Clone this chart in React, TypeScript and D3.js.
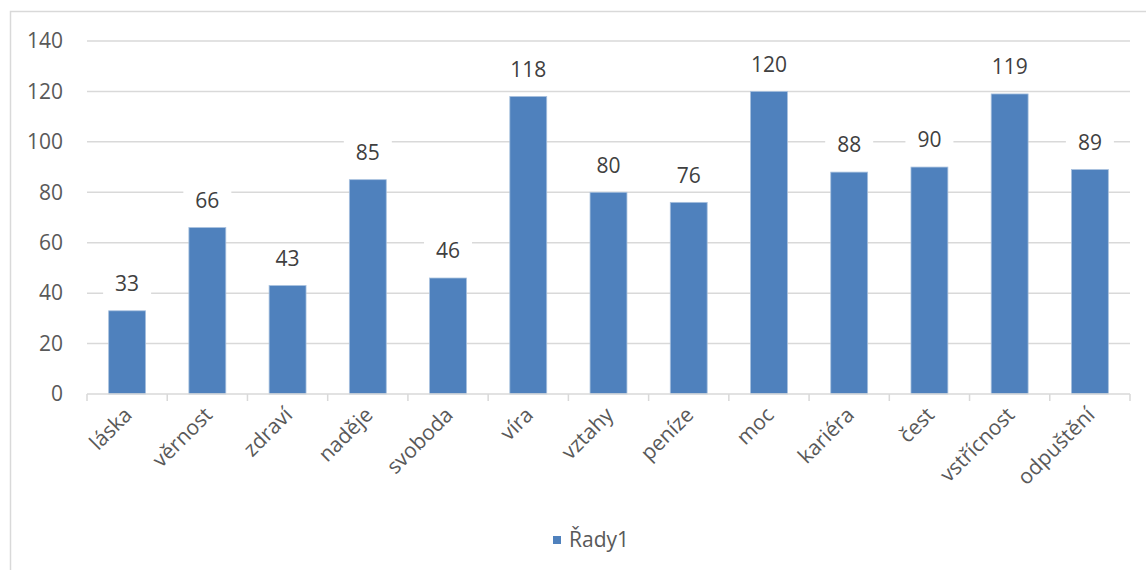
import { useEffect, useRef } from 'react'
import * as d3 from 'd3'

const categories = ['láska', 'věrnost', 'zdraví', 'naděje', 'svoboda', 'víra', 'vztahy', 'peníze', 'moc', 'kariéra', 'čest', 'vstřícnost', 'odpuštění']
const values = [33, 66, 43, 85, 46, 118, 80, 76, 120, 88, 90, 119, 89]
const yTicks = [0, 20, 40, 60, 80, 100, 120, 140]
const seriesName = 'Řady1'

const W = 1146
const H = 570
const FONT = '"Open Sans", "Liberation Sans", sans-serif'

export default function App() {
  const svgRef = useRef<SVGSVGElement>(null)

  useEffect(() => {
    if (!svgRef.current) return
    const svg = d3.select(svgRef.current)
    svg.selectAll('*').remove()

    const left = 87
    const right = 1130
    const top = 41
    const bottom = 394

    const x = d3.scaleBand<string>().domain(categories).range([left, right]).paddingInner(0.54).paddingOuter(0.27)
    const y = d3.scaleLinear().domain([0, 140]).range([bottom, top])
    const step = x.step()

    // chart frame
    svg.append('rect')
      .attr('x', 10.5).attr('y', 11.5)
      .attr('width', W + 10).attr('height', H + 10)
      .attr('fill', 'white').attr('stroke', '#d9d9d9').attr('stroke-width', 1.5)

    // gridlines
    svg.append('g').selectAll('line')
      .data(yTicks.filter(d => d > 0))
      .enter().append('line')
      .attr('x1', left).attr('x2', right)
      .attr('y1', d => y(d)).attr('y2', d => y(d))
      .attr('stroke', '#d9d9d9').attr('stroke-width', 1.5)

    // y labels
    svg.append('g').selectAll('text')
      .data(yTicks)
      .enter().append('text')
      .attr('x', 63).attr('y', d => y(d))
      .attr('dy', '0.35em')
      .attr('text-anchor', 'end')
      .attr('font-family', FONT).attr('font-size', 21)
      .attr('fill', '#595959')
      .text(d => d)

    // bars
    svg.append('g').selectAll('rect')
      .data(values)
      .enter().append('rect')
      .attr('x', (_, i) => x(categories[i])!)
      .attr('y', d => y(d))
      .attr('width', x.bandwidth())
      .attr('height', d => bottom - y(d))
      .attr('fill', '#4f81bd')
      .attr('stroke', '#a7c0de').attr('stroke-width', 0.8)

    // data labels with white backing
    const lab = svg.append('g').selectAll('g')
      .data(values)
      .enter().append('g')
      .attr('transform', (d, i) => `translate(${x(categories[i])! + x.bandwidth() / 2},${y(d) - 27})`)
    lab.append('rect')
      .attr('x', -24).attr('y', -14).attr('width', 48).attr('height', 28)
      .attr('fill', 'white')
    lab.append('text')
      .attr('text-anchor', 'middle').attr('dy', '0.35em')
      .attr('font-family', FONT).attr('font-size', 21)
      .attr('fill', '#404040')
      .text(d => d)

    // axis line and ticks
    svg.append('line')
      .attr('x1', left).attr('x2', right)
      .attr('y1', bottom).attr('y2', bottom)
      .attr('stroke', '#d9d9d9').attr('stroke-width', 1.5)
    svg.append('g').selectAll('line')
      .data(d3.range(categories.length + 1))
      .enter().append('line')
      .attr('x1', i => left + i * step).attr('x2', i => left + i * step)
      .attr('y1', bottom).attr('y2', bottom + 7)
      .attr('stroke', '#d9d9d9').attr('stroke-width', 1.5)

    // category labels
    svg.append('g').selectAll('text')
      .data(categories)
      .enter().append('text')
      .attr('transform', d => `translate(${x(d)! + x.bandwidth() / 2 + 1},${bottom + 17}) rotate(-45)`)
      .attr('text-anchor', 'end').attr('dy', '0.35em')
      .attr('font-family', FONT).attr('font-size', 21)
      .attr('fill', '#595959')
      .text(d => d)

    // legend
    const lg = svg.append('g').attr('transform', 'translate(553,540)')
    lg.append('rect').attr('x', 0).attr('y', -4).attr('width', 8).attr('height', 8).attr('fill', '#4f81bd')
    lg.append('text')
      .attr('x', 16).attr('dy', '0.35em')
      .attr('font-family', FONT).attr('font-size', 21)
      .attr('fill', '#595959')
      .text(seriesName)
  }, [])

  return (
    <svg
      ref={svgRef}
      width={W}
      height={H}
      style={{ position: 'absolute', left: 0, top: 0, background: 'white' }}
    />
  )
}
